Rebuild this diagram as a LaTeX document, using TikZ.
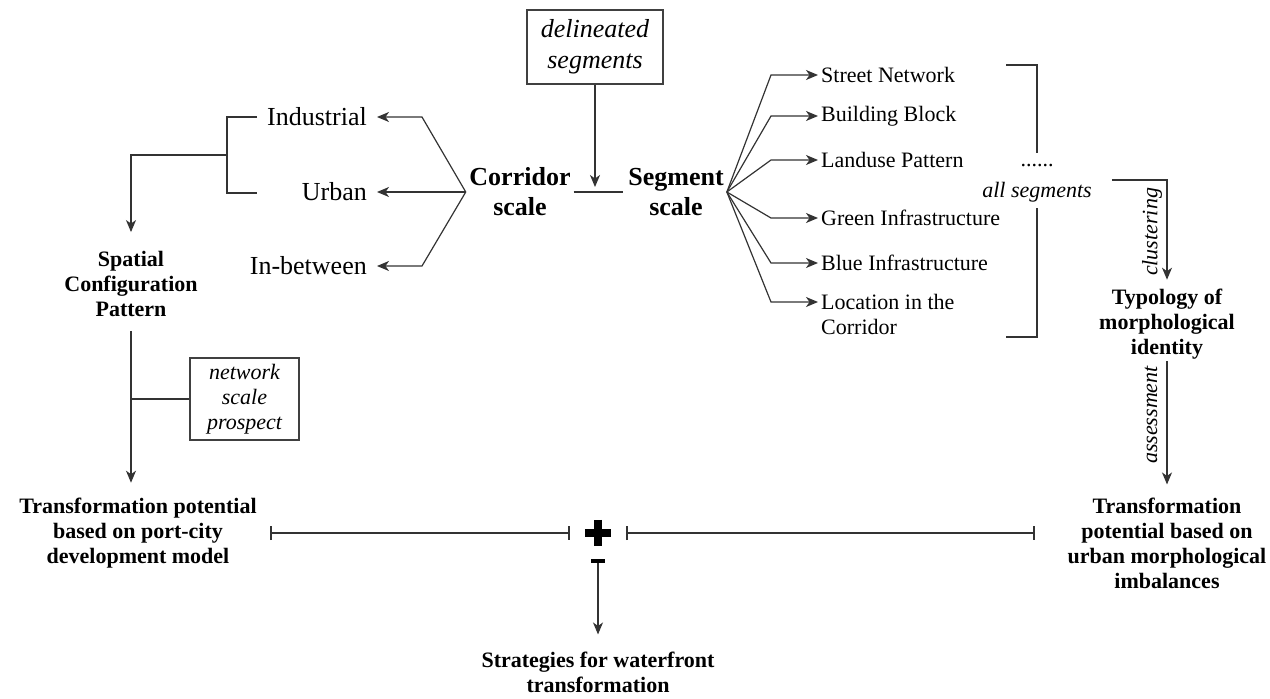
\documentclass[tikz,border=0pt]{standalone}
\usepackage{fontspec}
\setmainfont{Liberation Serif}
\usetikzlibrary{arrows.meta,calc}
\newcommand{\szA}{\fontsize{26}{30}\selectfont}
\newcommand{\szB}{\fontsize{22}{25}\selectfont}
\newcommand{\szC}{\fontsize{26}{31}\selectfont}
\tikzset{
 ln/.style={line width=1.2pt, draw=black!80},
 arr/.style={ln, -{Stealth[length=12pt,width=10pt,inset=3.5pt]}},
 big/.style={font=\szA, inner sep=0pt},
 bigb/.style={font=\szA\bfseries, align=center, inner sep=0pt},
 itm/.style={font=\szB, inner sep=0pt, anchor=west, align=left},
 hd/.style={font=\szB\bfseries, align=center, inner sep=0pt},
 itl/.style={font=\szB\itshape, inner sep=0pt},
 ibox/.style={draw=black!75, line width=1.1pt, align=center, inner sep=0pt},
 barl/.style={ln, {Bar[width=14pt,line width=2pt]}-{Bar[width=14pt,line width=2pt]}},
}
\begin{document}
\begin{tikzpicture}[x=1pt,y=-1pt]
\useasboundingbox (0,0) rectangle (1270,699);
% corridor part
\node[big, anchor=east] (ind) at (367,117) {Industrial};
\node[big, anchor=east] (urb) at (367,192) {Urban};
\node[big, anchor=east] (inb) at (367,266) {In-between};
\node[bigb] (cor) at (520,192) {Corridor\\scale};
\node[bigb] (seg) at (676,192) {Segment\\scale};
\node[ibox, font=\szC\itshape, minimum width=136pt, minimum height=74pt] (del) at (595,47) {delineated\\segments};
\coordinate (capex) at ([xshift=-3.5pt]cor.west);
\draw[arr] (capex) -- ([xshift=55pt]ind.east) -- ([xshift=10pt]ind.east);
\draw[arr] (capex) -- ([xshift=10pt]urb.east);
\draw[arr] (capex) -- ([xshift=55pt]inb.east) -- ([xshift=10pt]inb.east);
\draw[ln] ([xshift=3pt]cor.east) -- ([xshift=-5pt]seg.west);
\coordinate (j) at ($(cor.east)!0.5!(seg.west)$);
\draw[arr, shorten >=5pt] (del.south) -- (del.south |- j);
% segment items
\coordinate (sapex) at ([xshift=3pt]seg.east);
\node[itm] (s1) at (821,75) {Street Network};
\node[itm] (s2) at (821,116) {Building Block};
\node[itm] (s3) at (821,160) {Landuse Pattern};
\node[itm] (s4) at (821,218) {Green Infrastructure};
\node[itm] (s5) at (821,263) {Blue Infrastructure};
\node[itm] (s6) at (821,314.5) {Location in the\\Corridor};
\foreach \s in {s1,s2,s3,s4,s5}{
  \draw[arr] (sapex) -- ([xshift=-50pt]\s.west) -- ([xshift=-3pt]\s.west);
}
\draw[arr] (sapex) -- ([xshift=-50pt,yshift=12.5pt]s6.west) -- ([xshift=-3pt,yshift=12.5pt]s6.west);
% bracket right
\coordinate (r1) at (1006,65);
\coordinate (r2) at (1037,65);
\coordinate (r3) at (1037,153);
\coordinate (r4) at (1037,208);
\coordinate (r5) at (1037,337);
\coordinate (r6) at (1006,337);
\draw[ln] (r1) -- (r2) -- (r3);
\draw[ln] (r4) -- (r5) -- (r6);
\node[font=\szB, inner sep=0pt] (dots) at (1037,166) {......};
\node[itl] (alls) at (1037,192) {all segments};
\node[hd] (typ) at (1167,324) {Typology of\\morphological\\identity};
\draw[arr, shorten >=9pt] ([xshift=20pt,yshift=12pt]alls.east) -| (typ.north);
\node[itl, rotate=90] (clu) at (1152,232) {clustering};
\node[hd] (rb) at (1167,543) {Transformation\\potential based on\\urban morphological\\imbalances};
\draw[arr] ([yshift=-2pt]typ.south) -- ([yshift=13pt]rb.north);
\node[itl, rotate=90] (ass) at (1151,415) {assessment};
% left
\coordinate (b1) at (257,117);
\coordinate (b2) at (227,117);
\coordinate (b3) at (227,193);
\coordinate (b4) at (257,193);
\coordinate (b5) at (227,155);
\draw[ln] (b1) -- (b2) -- (b3) -- (b4);
\node[hd] (spat) at (131,284) {Spatial\\Configuration\\Pattern};
\draw[arr] (b5) -| ([yshift=19pt]spat.north);
\node[hd] (lb) at (138,533) {Transformation potential\\based on port-city\\development model};
\draw[arr] ([yshift=-14pt]spat.south) -- ([yshift=15pt]spat.south |- lb.north);
\node[ibox, font=\szB\itshape, minimum width=109pt, minimum height=82pt] (net) at (244.5,399) {network\\scale\\prospect};
\draw[ln] (net.west) -- (net.west -| spat.south);
% bottom
\node[minimum size=26pt, inner sep=0pt] (plus) at (598,533) {};
\draw[line width=8pt] (plus.north) -- (plus.south) (plus.west) -- (plus.east);
\draw[barl] ([xshift=13pt]lb.east |- plus.west) -- ([xshift=-15pt]plus.west);
\draw[barl] ([xshift=15pt]plus.east) -- ([xshift=-32pt]rb.west |- plus.east);
\node[minimum width=14pt, minimum height=4pt, inner sep=0pt, fill=black] (minus) at (598,561) {};
\node[hd] (str) at (598,672) {Strategies for waterfront\\transformation};
\draw[arr] (minus.south) -- ([yshift=17pt]str.north);
\end{tikzpicture}
\end{document}
